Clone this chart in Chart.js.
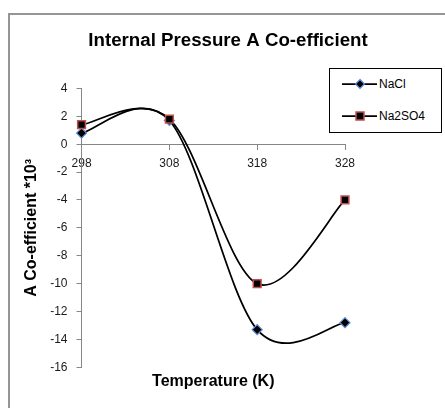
<!DOCTYPE html>
<html>
<head>
<meta charset="utf-8">
<script src="https://cdn.jsdelivr.net/npm/chart.js@4/dist/chart.umd.min.js"></script>
<style>
  html, body { margin: 0; padding: 0; background: #fff; overflow: hidden; }
  #wrap { position: absolute; left: 0; top: 0; width: 445px; height: 408px; }
  #frame { position: absolute; left: 8px; top: 13px; width: 460px; height: 420px; border: 2px solid #959595; box-sizing: border-box; }
  #legend { position: absolute; left: 329px; top: 68px; width: 113px; height: 65px; border: 1px solid #000; box-sizing: border-box; font-family: "Liberation Sans", Arial, sans-serif; font-size: 12px; color: #000; background: #fff; }
  .item { position: absolute; left: 12px; height: 16px; display: flex; align-items: center; }
  .item svg { display: block; }
  .item span { margin-left: 1px; }
</style>
</head>
<body>
<div id="wrap">
  <div id="frame"></div>
  <canvas id="c" width="445" height="408"></canvas>
  <div id="legend">
    <div class="item" style="top:7px">
      <svg width="36" height="16"><line x1="0" y1="8" x2="35" y2="8" stroke="#000" stroke-width="1.75"/><polygon points="18,3.5 22.5,8 18,12.5 13.5,8" fill="#000" stroke="#5b8fd6" stroke-width="1.2"/></svg><span>NaCl</span>
    </div>
    <div class="item" style="top:39px">
      <svg width="36" height="16"><line x1="0" y1="8" x2="35" y2="8" stroke="#000" stroke-width="1.75"/><rect x="14" y="4" width="8" height="8" fill="#000" stroke="#c0504d" stroke-width="1.5"/></svg><span>Na2SO4</span>
    </div>
  </div>
</div>
<script>
const categories = ['298', '308', '318', '328'];
const naclValues = [0.8, 1.7, -13.3, -12.8];
const na2so4Values = [1.4, 1.8, -10.0, -4.0];
const yTicks = { min: -16, max: 4, step: 2 };
const chartTitle = 'Internal Pressure A Co-efficient';
const xTitle = 'Temperature (K)';
const yTitle = 'A Co-efficient *10\u00B3';

const FONT = '"Liberation Sans", Arial, sans-serif';
const axisGray = '#868686';

// Excel-style smoothing: uniform Catmull-Rom control points (1/6 of neighbour span),
// computed from the library's own point positions.
const excelSmooth = {
  id: 'excelSmooth',
  beforeDatasetsDraw(chart) {
    chart.getSortedVisibleDatasetMetas().forEach(meta => {
      const line = meta.dataset;
      if (!line) return;
      line.updateControlPoints(chart.chartArea, 'x');
      const pts = meta.data;
      for (let i = 0; i < pts.length; i++) {
        const p = pts[i];
        const prev = pts[i - 1] || p;
        const next = pts[i + 1] || p;
        const dx = (next.x - prev.x) / 6;
        const dy = (next.y - prev.y) / 6;
        p.cp1x = p.x - dx; p.cp1y = p.y - dy;
        p.cp2x = p.x + dx; p.cp2y = p.y + dy;
      }
      line._path = undefined;
    });
  }
};

new Chart(document.getElementById('c'), {
  type: 'line',
  data: {
    labels: categories,
    datasets: [
      {
        label: 'NaCl',
        data: naclValues,
        xAxisID: 'x', yAxisID: 'y',
        order: 2,
        borderColor: '#000',
        borderWidth: 1.75,
        tension: 0.5,
        fill: false,
        pointStyle: 'rectRot',
        pointRadius: 5,
        pointBackgroundColor: '#000',
        pointBorderColor: '#5b8fd6',
        pointBorderWidth: 1.2
      },
      {
        label: 'Na2SO4',
        data: na2so4Values,
        xAxisID: 'x', yAxisID: 'y',
        order: 1,
        borderColor: '#000',
        borderWidth: 1.75,
        tension: 0.5,
        fill: false,
        pointStyle: 'rect',
        pointRadius: 5.5,
        pointBackgroundColor: '#000',
        pointBorderColor: '#c0504d',
        pointBorderWidth: 1.5
      }
    ]
  },
  plugins: [excelSmooth],
  options: {
    responsive: false,
    animation: false,
    devicePixelRatio: 1,
    layout: { padding: { left: 11, right: 0, top: 0, bottom: 9 } },
    plugins: {
      legend: { display: false },
      tooltip: { enabled: false },
      title: {
        display: true,
        text: chartTitle,
        color: '#000',
        font: { family: FONT, size: 18.7, weight: 'bold' },
        padding: { top: 30, bottom: 36 }
      }
    },
    scales: {
      x: {
        type: 'category',
        axis: 'x',
        position: { y: 0 },
        offset: false,
        grid: { display: true, drawOnChartArea: false, drawTicks: true, tickLength: 5, color: axisGray },
        border: { display: true, color: axisGray, width: 1 },
        ticks: { color: '#1a1a1a', font: { family: FONT, size: 12 }, padding: 7, maxRotation: 0, autoSkip: false }
      },
      xt: {
        type: 'category',
        axis: 'x',
        position: 'bottom',
        offset: false,
        grid: { display: false, drawTicks: false },
        border: { display: false },
        ticks: { display: false },
        title: {
          display: true,
          text: xTitle,
          color: '#000',
          font: { family: FONT, size: 16, weight: 'bold' },
          padding: { top: 5, bottom: 7.5 }
        }
      },
      y: {
        type: 'linear',
        position: 'left',
        min: yTicks.min,
        max: yTicks.max,
        grid: { display: true, drawOnChartArea: false, drawTicks: true, tickLength: 5, color: axisGray },
        border: { display: true, color: axisGray, width: 1 },
        ticks: { stepSize: yTicks.step, color: '#1a1a1a', font: { family: FONT, size: 12 }, padding: 9 },
        title: {
          display: true,
          text: yTitle,
          color: '#000',
          font: { family: FONT, size: 16, weight: 'bold' },
          padding: { top: 11, bottom: 0 }
        }
      },
      yr: {
        type: 'linear',
        axis: 'y',
        position: 'right',
        grid: { display: false, drawTicks: false },
        border: { display: false },
        ticks: { display: false },
        afterFit: function (scale) { scale.width = 100; }
      }
    }
  }
});
</script>
</body>
</html>
